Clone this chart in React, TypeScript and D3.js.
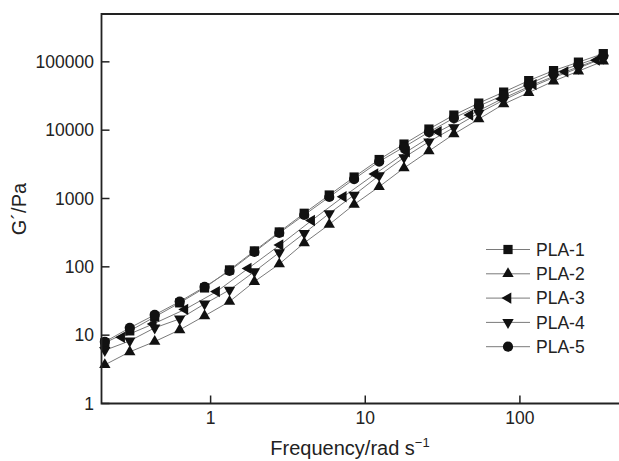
import React from "react";
import * as d3 from "d3";

const freqMain = [0.207, 0.3, 0.435, 0.631, 0.914, 1.325, 1.92, 2.78, 4.03, 5.85, 8.47, 12.3, 17.8, 25.8, 37.4, 54.2, 78.5, 114, 165, 239, 346];
const freqPLA3 = [0.266, 0.426, 0.682, 1.093, 1.75, 2.81, 4.5, 7.21, 11.56, 18.5, 29.7, 47.5, 76.2, 122, 196, 313];

const pla1 = [7.72, 11.56, 18.5, 29.7, 49.1, 90.1, 171, 324, 608, 1125, 2062, 3718, 6263, 10380, 16630, 24900, 36060, 53110, 74360, 99000, 131800];
const pla2 = [3.68, 5.7, 8.06, 11.95, 19.15, 31.0, 60.8, 110, 224, 417, 817, 1488, 2792, 4947, 8770, 14530, 24080, 35460, 52220, 73110, 102400];
const pla3 = [9.29, 14.6, 23.8, 43.4, 94.8, 209, 477, 1062, 2281, 4833, 9476, 16630, 28490, 46420, 71420, 105900];
const pla4 = [6.0, 8.25, 12.8, 17.3, 28.7, 45.9, 85.1, 162, 310, 604, 1125, 2169, 3977, 6767, 10915, 17780, 27550, 41260, 58750, 80900, 113300];
const pla5 = [7.98, 12.8, 19.8, 31.0, 50.8, 87.1, 165, 313, 574, 1052, 1928, 3475, 5660, 9380, 15030, 22510, 32610, 47200, 68370, 91000, 121150];

const xTicks = [1, 10, 100];
const yTicks = [1, 10, 100, 1000, 10000, 100000];
const seriesNames = ["PLA-1", "PLA-2", "PLA-3", "PLA-4", "PLA-5"];
const seriesShapes = ["square", "up", "left", "down", "circle"];

const W = 619;
const H = 461;
const left = 101.5;
const top = 14;
const bottom = 403.5;
const decade = 154.65;

const x = d3
  .scaleLog()
  .domain([0.197, 440])
  .range([left, left + decade * Math.log10(440 / 0.197)]);
const y = d3.scaleLog().domain([1, Math.pow(10, 5.7)]).range([bottom, top]);

function markerPath(shape: string): { d: string; rot: number } {
  if (shape === "square") return { d: d3.symbol(d3.symbolSquare, 85)()!, rot: 0 };
  if (shape === "circle") return { d: d3.symbol(d3.symbolCircle, 82)()!, rot: 0 };
  const tri = d3.symbol(d3.symbolTriangle, 56)()!;
  if (shape === "up") return { d: tri, rot: 0 };
  if (shape === "down") return { d: tri, rot: 180 };
  return { d: tri, rot: -90 };
}

const Marker = ({ cx, cy, shape }: { cx: number; cy: number; shape: string }) => {
  const m = markerPath(shape);
  return <path d={m.d} transform={`translate(${cx},${cy}) rotate(${m.rot})`} fill="#111" />;
};

export default function App() {
  const series = [
    { xs: freqMain, ys: pla1 },
    { xs: freqMain, ys: pla2 },
    { xs: freqPLA3, ys: pla3 },
    { xs: freqMain, ys: pla4 },
    { xs: freqMain, ys: pla5 },
  ];
  const line = d3
    .line<[number, number]>()
    .x((d) => x(d[0]))
    .y((d) => y(d[1]));
  const font = "'Liberation Sans', Arial, Helvetica, sans-serif";
  const legX = 486;
  const legY0 = 249.5;
  const legDy = 24.3;

  return (
    <svg
      width={W}
      height={H}
      style={{ position: "absolute", left: 0, top: 0, background: "#fff" }}
      fontFamily={font}
    >
      <rect width={W} height={H} fill="#fff" />
      {series.map((s, i) => (
        <path
          key={"l" + i}
          d={line(s.xs.map((f, j) => [f, s.ys[j]] as [number, number]))!}
          fill="none"
          stroke="#7a7a7a"
          strokeWidth={1}
        />
      ))}
      {series.map((s, i) =>
        s.xs.map((f, j) => (
          <Marker key={`m${i}-${j}`} cx={x(f)} cy={y(s.ys[j])} shape={seriesShapes[i]} />
        ))
      )}
      <path
        d={`M${W + 5},${top} H${left} V${bottom} H${W + 5}`}
        fill="none"
        stroke="#222"
        strokeWidth={1.8}
      />
      {xTicks.map((t) => (
        <g key={"xt" + t}>
          <line x1={x(t)} x2={x(t)} y1={bottom} y2={bottom - 8} stroke="#222" strokeWidth={1.5} />
          <text x={x(t)} y={424} textAnchor="middle" fontSize={17.5} fill="#222">
            {String(t)}
          </text>
        </g>
      ))}
      {yTicks.map((t) => (
        <g key={"yt" + t}>
          <line x1={left} x2={left + 8} y1={y(t)} y2={y(t)} stroke="#222" strokeWidth={1.5} />
          <text x={94} y={y(t)} dy="0.36em" textAnchor="end" fontSize={17.5} fill="#222">
            {String(t)}
          </text>
        </g>
      ))}
      <text x={350} y={455} textAnchor="middle" fontSize={20} fill="#222">
        Frequency/rad s
        <tspan dy={-8} fontSize={13}>−1</tspan>
      </text>
      <text
        transform={`translate(26,209) rotate(-90)`}
        textAnchor="middle"
        fontSize={20}
        fill="#222"
      >
        G´/Pa
      </text>
      {seriesNames.map((n, i) => {
        const ly = legY0 + i * legDy;
        return (
          <g key={"lg" + i}>
            <line x1={legX} x2={legX + 44} y1={ly} y2={ly} stroke="#7a7a7a" strokeWidth={1} />
            <Marker cx={legX + 22} cy={ly} shape={seriesShapes[i]} />
            <text x={536} y={ly} dy="0.36em" fontSize={17.5} fill="#222">
              {n}
            </text>
          </g>
        );
      })}
    </svg>
  );
}
